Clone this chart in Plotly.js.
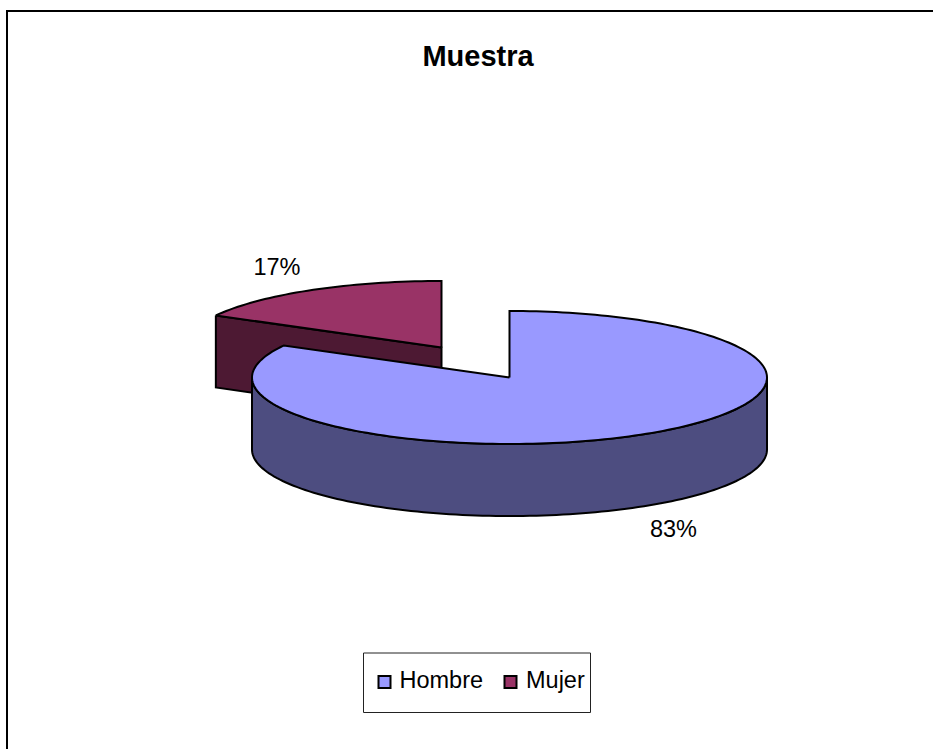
<!DOCTYPE html>
<html>
<head>
<meta charset="utf-8">
<script src="https://cdn.plot.ly/plotly-3.0.1.min.js"></script>
<style>html,body{margin:0;padding:0;background:#fff}#c{width:933px;height:749px}</style>
</head>
<body>
<div id="c"></div>
<script>
var categories = ['Hombre', 'Mujer'];
var shares = [83, 17];
var topColors = ['#9999FF', '#993366'];
var wallColors = ['#4D4D80', '#4D1933'];
var chartTitle = 'Muestra';

var FONT = 'Liberation Sans, Arial, sans-serif';
var RX = 257.5, RY = 66.5, DEPTH = 72;
var centers = [{x: 509.5, y: 377.5}, {x: 441.5, y: 347.5}];
var total = shares[0] + shares[1];
var startAngles = [0, shares[0] / total * 360];
var endAngles = [shares[0] / total * 360, 360];

function pt(c, deg, dy) {
  var a = deg * Math.PI / 180;
  return [c.x + RX * Math.sin(a), c.y - RY * Math.cos(a) + (dy || 0)];
}
function poly(points, fill, name) {
  return {
    type: 'scatter', mode: 'lines', x: points.map(function (p) { return p[0]; }),
    y: points.map(function (p) { return p[1]; }), fill: 'toself', fillcolor: fill,
    line: {color: '#000', width: 2, simplify: false}, name: name, showlegend: false, hoverinfo: 'name'
  };
}
function arc(c, from, to, dy) {
  var out = [], n = Math.max(2, Math.ceil(Math.abs(to - from) / 1.5));
  for (var i = 0; i <= n; i++) out.push(pt(c, from + (to - from) * i / n, dy));
  return out;
}
function topFace(i) {
  return [[centers[i].x, centers[i].y]].concat(arc(centers[i], startAngles[i], endAngles[i]), [[centers[i].x, centers[i].y]]);
}
var mujerEdge = pt(centers[1], startAngles[1]);
var mujerWall = [
  mujerEdge, [centers[1].x, centers[1].y],
  [centers[1].x, centers[1].y + DEPTH], [mujerEdge[0], mujerEdge[1] + DEPTH], mujerEdge
];
var hombreWall = arc(centers[0], 90, 270).concat(arc(centers[0], 270, 90, DEPTH));
hombreWall.push(hombreWall[0]);

var traces = [
  poly(mujerWall, wallColors[1], categories[1]),
  poly(topFace(1), topColors[1], categories[1]),
  poly(hombreWall, wallColors[0], categories[0]),
  poly(topFace(0), topColors[0], categories[0]),
  {
    type: 'scatter', mode: 'text', x: [673.5, 277], y: [531, 269],
    text: shares.map(function (v) { return v + '%'; }),
    textfont: {family: FONT, size: 23.5, color: '#000'}, showlegend: false, hoverinfo: 'skip'
  },
  {
    type: 'scatter', mode: 'markers', x: [384.5, 510.5], y: [682, 682],
    marker: {symbol: 'square', size: 12, color: topColors, line: {color: '#000', width: 2}},
    showlegend: false, hoverinfo: 'skip'
  },
  {
    type: 'scatter', mode: 'text', x: [399.5, 526], y: [682.5, 682.5],
    text: categories, textposition: 'middle right',
    textfont: {family: FONT, size: 23.5, color: '#000'},
    showlegend: false, hoverinfo: 'text'
  }
];

var layout = {
  width: 933, height: 749, margin: {l: 0, r: 0, t: 0, b: 0},
  paper_bgcolor: '#fff', plot_bgcolor: '#fff', showlegend: false,
  title: {text: '<b>' + chartTitle + '</b>', font: {family: FONT, size: 29, color: '#000'},
          x: 478 / 933, xanchor: 'center', y: 1 - 56 / 749, yanchor: 'middle'},
  xaxis: {range: [0, 933], visible: false, fixedrange: true},
  yaxis: {range: [749, 0], visible: false, fixedrange: true},
  shapes: [
    {type: 'line', xref: 'x', yref: 'y', x0: 6, x1: 933, y0: 11, y1: 11, line: {color: '#000', width: 2}},
    {type: 'line', xref: 'x', yref: 'y', x0: 7, x1: 7, y0: 10, y1: 749, line: {color: '#000', width: 2}},
    {type: 'rect', xref: 'x', yref: 'y', x0: 363.5, x1: 590.5, y0: 653, y1: 712.5, line: {color: '#222', width: 1}, fillcolor: 'rgba(0,0,0,0)', layer: 'below'}
  ]
};
Plotly.newPlot('c', traces, layout, {displayModeBar: false, staticPlot: true});
</script>
</body>
</html>
